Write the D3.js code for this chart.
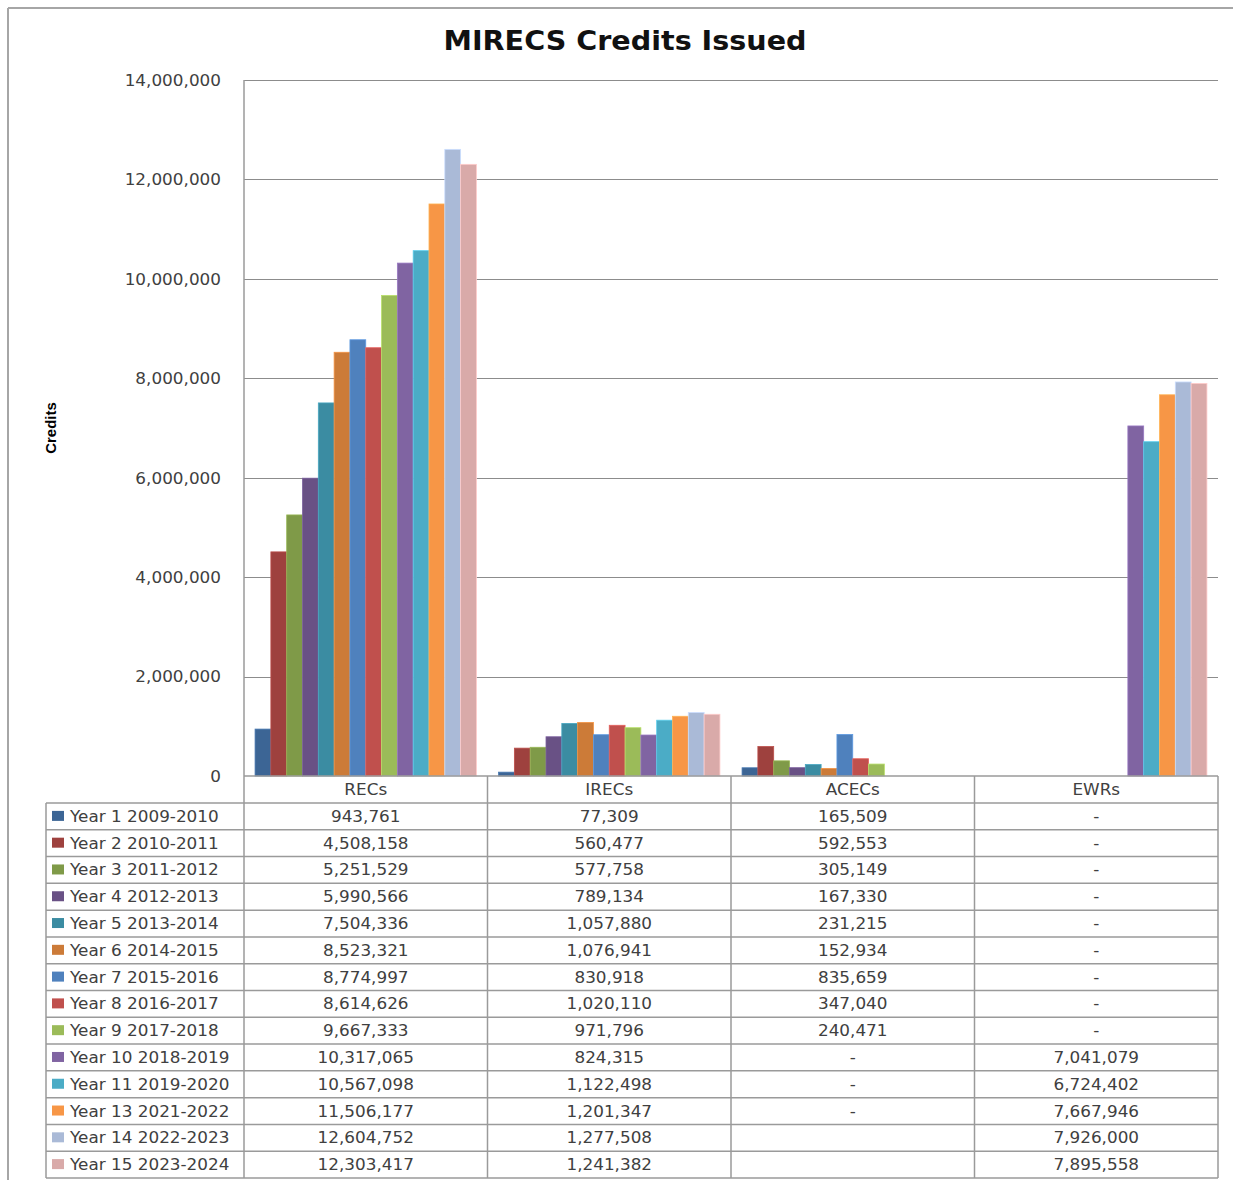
<!DOCTYPE html>
<html><head><meta charset="utf-8">
<script src="https://cdn.jsdelivr.net/npm/d3@7"></script>
<style>
html,body{margin:0;padding:0;background:#fff;}
svg{display:block;}
</style></head>
<body>
<svg id="chart" width="1233" height="1180"></svg>
<script>
const categories = ["RECs", "IRECs", "ACECs", "EWRs"];
const seriesNames = ["Year 1 2009-2010","Year 2 2010-2011","Year 3 2011-2012","Year 4 2012-2013","Year 5 2013-2014","Year 6 2014-2015","Year 7 2015-2016","Year 8 2016-2017","Year 9 2017-2018","Year 10 2018-2019","Year 11 2019-2020","Year 13 2021-2022","Year 14 2022-2023","Year 15 2023-2024"];
const colors = ["#3C6595","#9E413E","#7F9A48","#695185","#3B8CA2","#CC7B38","#4F81BD","#C0504D","#9BBB59","#8064A2","#4BACC6","#F79646","#AABAD7","#D9AAA9"];
// 0 = shown as "-", null = blank cell
const recs  = [943761,4508158,5251529,5990566,7504336,8523321,8774997,8614626,9667333,10317065,10567098,11506177,12604752,12303417];
const irecs = [77309,560477,577758,789134,1057880,1076941,830918,1020110,971796,824315,1122498,1201347,1277508,1241382];
const acecs = [165509,592553,305149,167330,231215,152934,835659,347040,240471,0,0,0,null,null];
const ewrs  = [0,0,0,0,0,0,0,0,0,7041079,6724402,7667946,7926000,7895558];
const yTicks = [0,2000000,4000000,6000000,8000000,10000000,12000000,14000000];

const columns = [recs, irecs, acecs, ewrs];
const S = 1.1; // horizontal text stretch
const svg = d3.select("#chart");
const fmt = d3.format(",");

const L = 244, R = 1218, T = 80, B = 776;
const x0 = d3.scaleBand().domain(categories).range([L, R]);
const x1 = d3.scaleBand().domain(seriesNames).range([0, x0.bandwidth()]).paddingInner(0).paddingOuter(0.7);
const y = d3.scaleLinear().domain([0, 14000000]).range([B, T]);

function stxt(g, x, yy, str, opt) {
  opt = opt || {};
  const t = g.append("text")
    .attr("transform", `translate(${x},${yy}) scale(${S},1)`)
    .attr("text-anchor", opt.anchor || "start")
    .attr("font-family", opt.family || "DejaVu Sans, Verdana, sans-serif")
    .attr("font-size", opt.size || 15.3)
    .attr("font-weight", opt.weight || "normal")
    .attr("fill", opt.fill || "#404040")
    .text(str);
  return t;
}

// outer border
svg.append("line").attr("x1",8).attr("x2",1233).attr("y1",8).attr("y2",8).attr("stroke","#a6a6a6").attr("stroke-width",2);
svg.append("line").attr("x1",8).attr("x2",8).attr("y1",8).attr("y2",1180).attr("stroke","#a6a6a6").attr("stroke-width",2);

// title
stxt(svg, 625, 50, "MIRECS Credits Issued", {anchor:"middle", size:26, weight:"bold", fill:"#111"});

// y label
svg.append("text")
  .attr("transform", "translate(56,428) rotate(-90)")
  .attr("text-anchor","middle")
  .attr("font-family","Liberation Sans Narrow, Arial Narrow, sans-serif")
  .attr("font-weight","bold")
  .attr("font-size",15)
  .attr("fill","#000")
  .text("Credits");

// gridlines
svg.append("g").selectAll("line").data(yTicks.filter(d => d > 0)).join("line")
  .attr("x1", L).attr("x2", R)
  .attr("y1", d => Math.round(y(d)) + 0.5).attr("y2", d => Math.round(y(d)) + 0.5)
  .attr("stroke", "#8c8c8c").attr("stroke-width", 1);

// y axis via d3
const yAxis = svg.append("g").attr("transform", `translate(${L},0)`)
  .call(d3.axisLeft(y).tickValues(yTicks).tickFormat(fmt).tickSize(0).tickPadding(0));
yAxis.select(".domain").remove();
yAxis.selectAll("text")
  .attr("x", null)
  .attr("dy", "0.35em")
  .attr("transform", `translate(-23,0) scale(${S},1)`)
  .attr("font-family", "DejaVu Sans, Verdana, sans-serif")
  .attr("font-size", 15.3)
  .attr("fill", "#404040");

// bars
const groups = svg.append("g").selectAll("g").data(categories).join("g")
  .attr("transform", d => `translate(${x0(d)},0)`);
groups.selectAll("rect")
  .data((c, ci) => seriesNames.map((s, si) => ({s, si, v: columns[ci][si]})))
  .join("rect")
  .filter(d => d.v)
  .attr("x", d => x1(d.s))
  .attr("width", x1.bandwidth())
  .attr("y", d => y(d.v))
  .attr("height", d => y(0) - y(d.v))
  .attr("fill", d => colors[d.si])
  .attr("stroke", d => d3.color(colors[d.si]).brighter(0.5))
  .attr("stroke-width", 0.8);

// table
const tblLeft = 46, hdrTop = 776, rowTop = 803, tblBottom = 1178;
const rowH = (tblBottom - rowTop) / seriesNames.length;
const lineColor = "#9a9a9a";
const tg = svg.append("g");
// axis line / header top
tg.append("line").attr("x1", L).attr("x2", R).attr("y1", hdrTop).attr("y2", hdrTop).attr("stroke", lineColor).attr("stroke-width", 1.5);
// row lines
for (let i = 0; i <= seriesNames.length; i++) {
  const yy = rowTop + i * rowH;
  tg.append("line").attr("x1", tblLeft).attr("x2", R).attr("y1", yy).attr("y2", yy).attr("stroke", lineColor).attr("stroke-width", 1.5);
}
// vertical lines
tg.append("line").attr("x1", tblLeft).attr("x2", tblLeft).attr("y1", rowTop).attr("y2", tblBottom).attr("stroke", lineColor).attr("stroke-width", 1.5);
tg.append("line").attr("x1", L).attr("x2", L).attr("y1", T).attr("y2", tblBottom).attr("stroke", lineColor).attr("stroke-width", 1.5);
categories.forEach(c => {
  const xx = x0(c) + x0.bandwidth();
  tg.append("line").attr("x1", xx).attr("x2", xx).attr("y1", hdrTop).attr("y2", tblBottom).attr("stroke", lineColor).attr("stroke-width", 1.5);
});
// header labels
categories.forEach(c => {
  stxt(tg, x0(c) + x0.bandwidth() / 2, 795, c, {anchor: "middle"});
});
// rows
seriesNames.forEach((s, si) => {
  const cy = rowTop + si * rowH + rowH / 2;
  tg.append("rect").attr("x", 52).attr("y", cy - 5.5).attr("width", 12).attr("height", 10).attr("fill", colors[si]);
  stxt(tg, 70, cy + 5.5, s);
  categories.forEach((c, ci) => {
    const v = columns[ci][si];
    const str = v === null ? "" : (v === 0 ? "-" : fmt(v));
    stxt(tg, x0(c) + x0.bandwidth() / 2, cy + 5.5, str, {anchor: "middle"});
  });
});
</script>
</body></html>
